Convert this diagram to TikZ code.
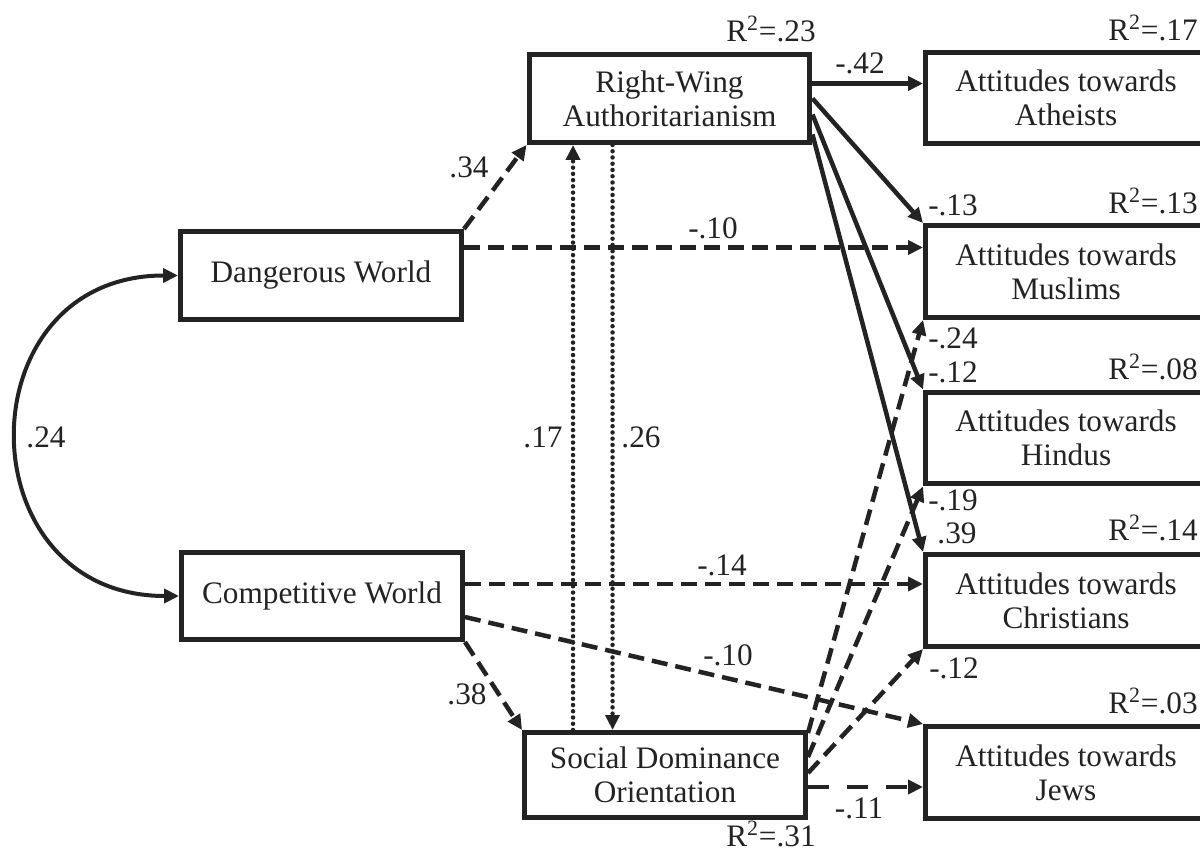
\documentclass[tikz,border=0pt]{standalone}
\usepackage{fontspec}
\setmainfont{Liberation Serif}
\usetikzlibrary{arrows.meta,calc}
\definecolor{ink}{RGB}{35,35,35}
\begin{document}
\begin{tikzpicture}[x=0.02cm,y=-0.02cm,
  every node/.style={font=\fontsize{17.8}{19.4}\selectfont, text=ink},
  box/.style={draw=ink, line width=0.1cm, minimum width=5.62cm, minimum height=1.76cm, align=center, inner sep=0pt},
  rbox/.style={box, minimum height=1.84cm},
  tip/.style={-{Triangle[length=0.3cm,width=0.28cm]}},
  conn/.style={draw=ink, line width=0.09cm, tip},
  dsh/.style={conn, dash pattern=on 0.32cm off 0.16cm},
  longdsh/.style={conn, dash pattern=on 0.42cm off 0.36cm},
  dotln/.style={conn, line width=0.09cm, dash pattern=on 0pt off 0.125cm, line cap=round},
  lab/.style={inner sep=0pt},
  rlab/.style={inner sep=0pt, anchor=east}
]
\useasboundingbox (0,0) rectangle (1200,854);
\clip (0,0) rectangle (1200,854);

% boxes
\node[box] (RWA) at (669.5,98.5) {Right-Wing\\Authoritarianism};
\node[box] (DW) at (321,275.5) {Dangerous World};
\node[box, minimum height=1.74cm] (CW) at (322,596) {Competitive World};
\node[box, minimum height=1.7cm] (SDO) at (665,775) {Social Dominance\\Orientation};
\node[rbox] (Ath) at (1066,98) {Attitudes towards\\Atheists};
\node[rbox] (Mus) at (1066,271.5) {Attitudes towards\\Muslims};
\node[rbox] (Hin) at (1066,438) {Attitudes towards\\Hindus};
\node[rbox] (Chr) at (1066,600.5) {Attitudes towards\\Christians};
\node[rbox] (Jew) at (1066,772.5) {Attitudes towards\\Jews};

% R^2 labels
\node[lab] (r23) at (771,29) {R\textsuperscript{2}=.23};
\node[rlab] (r17) at (1198,28) {R\textsuperscript{2}=.17};
\node[rlab] (r13) at (1198,201) {R\textsuperscript{2}=.13};
\node[rlab] (r08) at (1198,367) {R\textsuperscript{2}=.08};
\node[rlab] (r14) at (1198,528) {R\textsuperscript{2}=.14};
\node[rlab] (r03) at (1198,701) {R\textsuperscript{2}=.03};
\node[lab] (r31) at (771,834) {R\textsuperscript{2}=.31};

% correlation between worldviews
\draw[ink, line width=0.08cm, {Triangle[length=0.3cm,width=0.28cm]}-{Triangle[length=0.3cm,width=0.28cm]}]
  (DW.west) .. controls +(-215,0) and +(-215,0) .. (CW.west);
\node[lab] (l24) at (46,437) {.24};

% Dangerous World paths
\draw[dsh] (DW.north east) -- (RWA.south west);
\node[lab] (l34) at (469,167) {.34};
\coordinate (dwm) at ($(DW.east)+(0,-28)$);
\draw[dsh] (dwm) -- (dwm -| Mus.west);
\node[lab] (l10a) at (713,228) {-.10};

% Competitive World paths
\coordinate (cwc) at ($(CW.east)+(0,-12)$);
\draw[dsh] (cwc) -- (cwc -| Chr.west);
\node[lab] (l14) at (722,565) {-.14};
\coordinate (cwj) at ($(CW.east)+(0,21)$);
\draw[dsh] (cwj) -- (Jew.north west);
\node[lab] (l10b) at (728,655) {-.10};
\draw[dsh] (CW.south east) -- (SDO.north west);
\node[lab] (l38) at (467,694) {.38};

% RWA <-> SDO
\coordinate (d1) at ($(SDO.north west)+(51,0)$);
\draw[dotln] (d1) -- (d1 |- RWA.south);
\node[lab] (l17) at (543,437) {.17};
\coordinate (d2) at ($(RWA.south west)+(86,0)$);
\draw[dotln] (d2) -- (d2 |- SDO.north);
\node[lab] (l26) at (641,437) {.26};

% RWA paths
\coordinate (ra) at ($(RWA.east)+(0,-15)$);
\draw[conn] (ra) -- (ra -| Ath.west);
\node[lab] (l42) at (860,63) {-.42};
\draw[conn] (RWA.east) -- (Mus.north west);
\node[lab] (l13) at (953,205) {-.13};
\draw[conn] ($(RWA.east)+(0,16)$) -- (Hin.north west);
\node[lab] (l12a) at (953,372) {-.12};
\draw[conn] ($(RWA.east)+(0,36)$) -- (Chr.north west);
\node[lab] (l39) at (957,533) {.39};

% SDO paths
\draw[dsh] ($(SDO.north east)+(0,3)$) -- (Mus.south west);
\node[lab] (l24b) at (953,338) {-.24};
\draw[dsh] ($(SDO.north east)+(0,27)$) -- (Hin.south west);
\node[lab] (l19) at (953,500) {-.19};
\draw[dsh] ($(SDO.north east)+(0,43)$) -- (Chr.south west);
\node[lab] (l12b) at (954,668) {-.12};
\coordinate (sj) at ($(SDO.east)+(0,12)$);
\draw[longdsh] (sj) -- (sj -| Jew.west);
\node[lab] (l11) at (859,808) {-.11};
\end{tikzpicture}
\end{document}
